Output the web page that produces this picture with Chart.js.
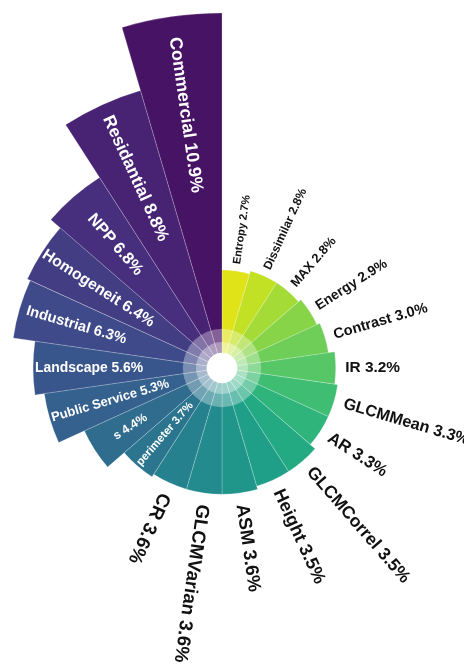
<!DOCTYPE html>
<html><head><meta charset="utf-8">
<script src="https://cdn.jsdelivr.net/npm/chart.js@4.4.1/dist/chart.umd.min.js"></script>
<style>html,body{margin:0;padding:0;background:#fff;overflow:hidden}#wrap{width:464px;height:670px;position:relative}</style>
</head><body><div id="wrap"><canvas id="c" width="464" height="670"></canvas></div>
<script>
const categories = ['Entropy','Dissimilar','MAX','Energy','Contrast','IR','GLCMMean','AR','GLCMCorrel','Height','ASM','GLCMVarian','CR','perimeter','s','Public Service','Landscape','Industrial','Homogeneit','NPP','Residantial','Commercial'];
const importance = [2.7,2.8,2.8,2.9,3.0,3.2,3.3,3.3,3.5,3.5,3.6,3.6,3.6,3.7,4.4,5.3,5.6,6.3,6.4,6.8,8.8,10.9];
const insideThreshold = 3.65;

// viridis key stops
const VIR = ['#440154','#471365','#482475','#463480','#414487','#3b528b','#355f8d','#2f6c8e','#2a788e','#25848e','#21918c','#1e9c89','#22a884','#2fb47c','#42be71','#5ec962','#7ad151','#9bd93c','#bddf26','#dfe318','#fde725'];
function hex(h){return [parseInt(h.slice(1,3),16),parseInt(h.slice(3,5),16),parseInt(h.slice(5,7),16)];}
function viridis(t){
  const p=t*(VIR.length-1); const i=Math.min(Math.floor(p),VIR.length-2); const f=p-i;
  const a=hex(VIR[i]), b=hex(VIR[i+1]);
  return 'rgb('+a.map((v,k)=>Math.round(v+(b[k]-v)*f)).join(',')+')';
}
const n = categories.length;
const colors = categories.map((_,k)=>viridis(0.95 - k*0.9/(n-1)));
const FONT = '"Liberation Sans", Arial, sans-serif';

const labelPlugin = {
  id:'radialLabels',
  afterDatasetsDraw(chart){
    const ctx = chart.ctx, scale = chart.scales.r;
    const cx = scale.xCenter, cy = scale.yCenter;
    const d = v => scale.getDistanceFromCenterForValue(v);
    ctx.save();
    // translucent inner rings
    const rings = [[0.82,'rgba(255,255,255,0.33)'],[0.40,'rgba(255,255,255,0.35)'],[0.06,'#ffffff']];
    rings.forEach(([v,c])=>{ctx.beginPath();ctx.arc(cx,cy,d(v),0,Math.PI*2);ctx.fillStyle=c;ctx.fill();});
    const meta = chart.getDatasetMeta(0);
    const firstInside = importance.findIndex(v=>v>insideThreshold);
    meta.data.forEach((arc,i)=>{
      const p = arc.getProps(['x','y','startAngle','endAngle','outerRadius'],true);
      const mid = (p.startAngle+p.endAngle)/2;
      const val = importance[i];
      const txt = categories[i]+' '+val.toFixed(1)+'%';
      ctx.save();
      ctx.textBaseline='middle';
      if (val > insideThreshold){
        const k = i-firstInside;
        const fs = Math.min(17.8, 11.3 + 0.85*k);
        ctx.font = 'bold '+fs.toFixed(1)+'px '+FONT;
        const w = ctx.measureText(txt).width;
        const r = Math.min(p.outerRadius*0.72, p.outerRadius - 2 - w/2);
        ctx.translate(p.x+r*Math.cos(mid), p.y+r*Math.sin(mid));
        ctx.rotate(mid+Math.PI);
        ctx.fillStyle='#ffffff';
        ctx.textAlign='center';
        ctx.fillText(txt,0,0);
      } else {
        const fs = 11 + 8*(1-Math.pow(Math.max(0,1-i/12),1.5));
        const r = p.outerRadius + 0.62*fs;
        ctx.translate(p.x+r*Math.cos(mid), p.y+r*Math.sin(mid));
        ctx.rotate(mid);
        ctx.font = 'bold '+fs.toFixed(1)+'px '+FONT;
        ctx.fillStyle='#111111';
        ctx.textAlign='left';
        ctx.fillText(txt,0,0);
      }
      ctx.restore();
    });
    ctx.restore();
  }
};

new Chart(document.getElementById('c'),{
  type:'polarArea',
  data:{labels:categories,datasets:[{data:importance,backgroundColor:colors,borderColor:'rgba(255,255,255,0.28)',borderWidth:0.8}]},
  options:{
    responsive:false,animation:false,
    plugins:{legend:{display:false},tooltip:{enabled:false}},
    scales:{r:{
      min:-0.43,max:10.9,
      ticks:{display:false},grid:{display:false},angleLines:{display:false},pointLabels:{display:false},
      afterFit(s){s.xCenter=222;s.yCenter=368;s.drawingArea=355;}
    }}
  },
  plugins:[labelPlugin]
});
</script></body></html>
